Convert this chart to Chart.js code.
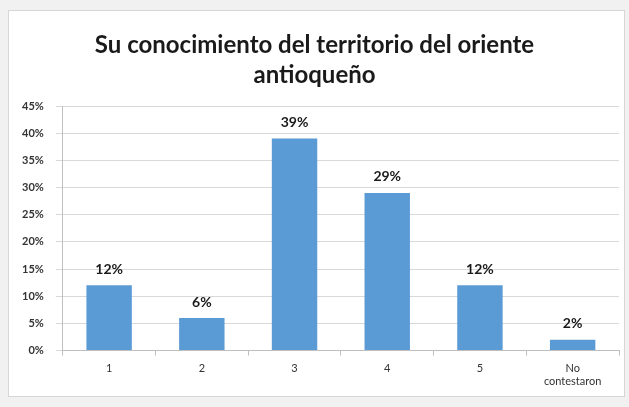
<!DOCTYPE html>
<html>
<head>
<meta charset="utf-8">
<script src="https://cdn.jsdelivr.net/npm/chart.js@4/dist/chart.umd.min.js"></script>
<style>
  html, body { margin: 0; padding: 0; background: #f1f1f1; width: 629px; height: 407px; overflow: hidden; }
  #box { position: absolute; left: 8px; top: 10px; width: 615px; height: 385px; background: #ffffff; border: 1px solid #d6d6d6; }
  canvas { display: block; }
</style>
</head>
<body>
<div id="box"><canvas id="c" width="615" height="385"></canvas></div>
<script>
const categories = ["1", "2", "3", "4", "5", ["No", "contestaron"]];
const values = [0.12, 0.06, 0.39, 0.29, 0.12, 0.02];
const dataLabels = ["12%", "6%", "39%", "29%", "12%", "2%"];
const titleLines = ["Su conocimiento del territorio del oriente", "antioqueño"];

const labelPlugin = {
  id: 'barLabels',
  afterDatasetsDraw(chart) {
    const ctx = chart.ctx;
    const meta = chart.getDatasetMeta(0);
    ctx.save();
    ctx.font = 'bold 14px Lato, "Liberation Sans", sans-serif';
    ctx.fillStyle = '#1a1a1a';
    ctx.textAlign = 'center';
    ctx.textBaseline = 'bottom';
    meta.data.forEach((bar, i) => {
      ctx.fillText(dataLabels[i], bar.x, bar.y - 9);
    });
    ctx.restore();
  }
};

new Chart(document.getElementById('c'), {
  type: 'bar',
  data: {
    labels: categories,
    datasets: [{
      data: values,
      backgroundColor: '#5b9bd5',
      borderWidth: 0,
      categoryPercentage: 1.0,
      barPercentage: 0.49
    }]
  },
  options: {
    responsive: false,
    animation: false,
    layout: { padding: { left: 1, right: 5, top: 0, bottom: 2 } },
    plugins: {
      legend: { display: false },
      tooltip: { enabled: false },
      title: {
        display: true,
        text: titleLines,
        color: '#1a1a1a',
        font: { family: 'Lato, "Liberation Sans", sans-serif', size: 24, weight: 'bold', lineHeight: 1.25 },
        padding: { top: 19, bottom: 16 }
      }
    },
    scales: {
      x: {
        grid: { display: true, drawOnChartArea: false, offset: true, tickLength: 5, color: '#bfbfbf' },
        border: { color: '#bfbfbf' },
        ticks: { color: '#333333', font: { family: 'Lato, "Liberation Sans", sans-serif', size: 11 }, padding: 6, maxRotation: 0 }
      },
      y: {
        min: 0,
        max: 0.45,
        grid: { color: '#d9d9d9', tickLength: 7 },
        border: { color: '#bfbfbf' },
        ticks: {
          stepSize: 0.05,
          padding: 12,
          color: '#333333',
          font: { family: 'Lato, "Liberation Sans", sans-serif', size: 11, weight: 'bold' },
          callback: v => Math.round(v * 100) + '%'
        }
      }
    }
  },
  plugins: [labelPlugin]
});
</script>
</body>
</html>
